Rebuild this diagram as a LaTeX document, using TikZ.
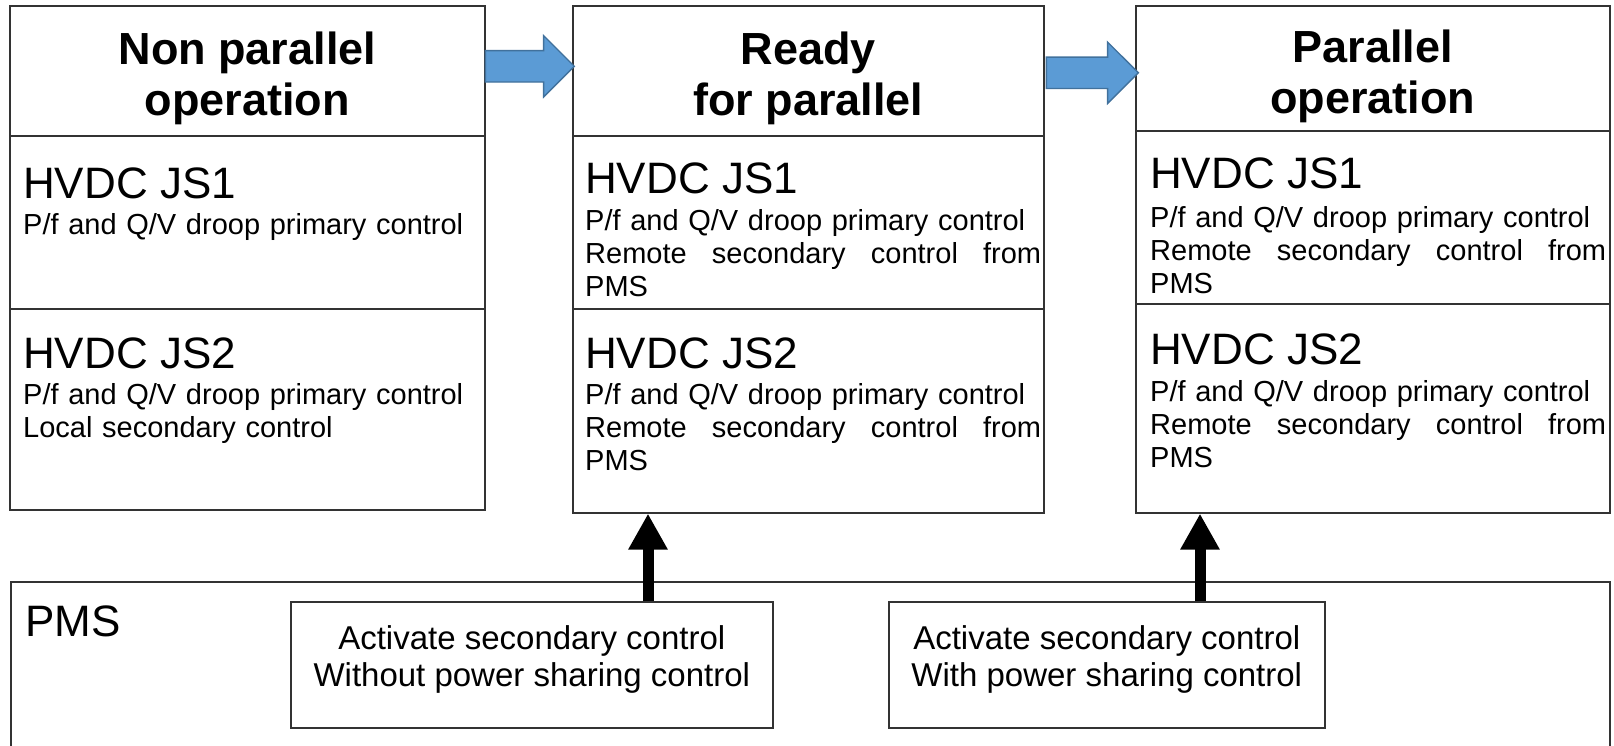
\documentclass[tikz,border=0pt]{standalone}
\usepackage{fontspec}
\setmainfont{Liberation Sans}
\usetikzlibrary{arrows.meta}
\usetikzlibrary{shapes.arrows}
\usetikzlibrary{calc}

\definecolor{edgegray}{HTML}{333333}
\definecolor{stepblue}{HTML}{5B9BD5}
\definecolor{stepedge}{HTML}{41719C}

\begin{document}
\begin{tikzpicture}[x=1pt, y=-1pt]
	\tikzstyle{cell}=[draw=edgegray, line width=1.6pt, anchor=north west, inner sep=0pt]
	\tikzstyle{title}=[font={\fontsize{45}{51}\selectfont\bfseries}, align=center, anchor=base, inner sep=0pt]
	\tikzstyle{unit}=[font={\fontsize{44}{50}\selectfont}, anchor=base west, inner sep=0pt]
	\tikzstyle{body}=[font={\fontsize{29}{33}\selectfont}, text width=456pt, align=left, anchor=base west, inner sep=0pt]
	\tikzstyle{order}=[font={\fontsize{33}{37}\selectfont}, align=center, anchor=base, inner sep=0pt]
	\tikzstyle{go}=[single arrow, fill=stepblue, draw=stepedge, line width=1.4pt, inner xsep=0pt, inner ysep=15pt,
		single arrow head extend=15pt, single arrow tip angle=90, minimum width=60pt, anchor=tail]
	\tikzstyle{lift}=[line width=11pt, -{Triangle[length=36pt, width=37pt]}]
	\useasboundingbox (0,0) rectangle (1614,745);
	\clip (0,0) rectangle (1614,745);
	% PMS and its commands
	\node[cell, minimum width=1599, minimum height=180] (pms) at (10,581) {};
	\node[unit] at ($(pms.north west)+(15,55)$) {PMS};
	\node[cell, minimum width=482, minimum height=126] (actA) at (290,601) {};
	\node[cell, minimum width=436, minimum height=126] (actB) at (888,601) {};
	\node[order] at ($(actA.north)+(0,85)$) {Activate secondary control\\Without power sharing control};
	\node[order] at ($(actB.north)+(0,85)$) {Activate secondary control\\With power sharing control};
	% non parallel operation
	\node[cell, minimum width=475, minimum height=130] (npHead) at (9,5) {};
	\node[cell, minimum width=475, minimum height=173] (npJS1) at (9,135) {};
	\node[cell, minimum width=475, minimum height=201] (npJS2) at (9,308) {};
	\node[title] at ($(npHead.north)+(0,110)$) {Non parallel\\operation};
	\node[unit] at ($(npJS1.north west)+(14,63)$) {HVDC JS1};
	\node[body] at ($(npJS1.north west)+(14,99)$) {P/f and Q/V droop primary control};
	\node[unit] at ($(npJS2.north west)+(14,60)$) {HVDC JS2};
	\node[body] at ($(npJS2.north west)+(14,96)$) {P/f and Q/V droop primary control\\Local secondary control};
	% ready for parallel
	\node[cell, minimum width=471, minimum height=130] (rdHead) at (572,5) {};
	\node[cell, minimum width=471, minimum height=173] (rdJS1) at (572,135) {};
	\node[cell, minimum width=471, minimum height=204] (rdJS2) at (572,308) {};
	\node[title] at ($(rdHead.north)+(0,110)$) {Ready\\for parallel};
	\node[unit] at ($(rdJS1.north west)+(13,58)$) {HVDC JS1};
	\node[body] at ($(rdJS1.north west)+(13,95)$) {P/f and Q/V droop primary control\\Remote\hfill secondary\hfill control\hfill from\\PMS};
	\node[unit] at ($(rdJS2.north west)+(13,60)$) {HVDC JS2};
	\node[body] at ($(rdJS2.north west)+(13,96)$) {P/f and Q/V droop primary control\\Remote\hfill secondary\hfill control\hfill from\\PMS};
	% parallel operation
	\node[cell, minimum width=474, minimum height=125] (poHead) at (1135,5) {};
	\node[cell, minimum width=474, minimum height=173] (poJS1) at (1135,130) {};
	\node[cell, minimum width=474, minimum height=209] (poJS2) at (1135,303) {};
	\node[title] at ($(poHead.north)+(0,108)$) {Parallel\\operation};
	\node[unit] at ($(poJS1.north west)+(15,58)$) {HVDC JS1};
	\node[body] at ($(poJS1.north west)+(15,97)$) {P/f and Q/V droop primary control\\Remote\hfill secondary\hfill control\hfill from\\PMS};
	\node[unit] at ($(poJS2.north west)+(15,61)$) {HVDC JS2};
	\node[body] at ($(poJS2.north west)+(15,98)$) {P/f and Q/V droop primary control\\Remote\hfill secondary\hfill control\hfill from\\PMS};
	% transitions
	\node[go, minimum height=89] (goA) at ($(npHead.east)+(-1,-4.5)$) {};
	\node[go, minimum height=92] (goB) at ($(rdHead.east)+(1,2)$) {};
	\coordinate (liftA) at ($(actA.north west)+(358,0)$);
	\coordinate (liftB) at ($(actB.north west)+(312,0)$);
	\draw[lift] (liftA) -- (liftA |- rdJS2.south);
	\draw[lift] (liftB) -- (liftB |- poJS2.south);
\end{tikzpicture}
\end{document}
